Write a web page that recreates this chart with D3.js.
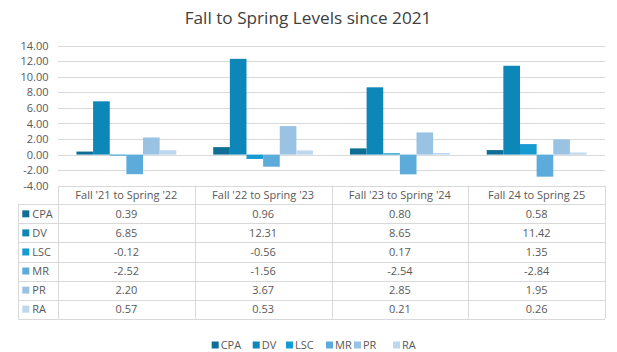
<!DOCTYPE html>
<html><head><meta charset="utf-8">
<script src="https://cdn.jsdelivr.net/npm/d3@7"></script>
<style>
body{margin:0;background:#fff;}
svg{display:block;font-family:"Open Sans","Noto Sans",sans-serif;}
</style></head>
<body>
<svg id="chart" width="617" height="352"></svg>
<script>
const categories = ["Fall '21 to Spring '22", "Fall '22 to Spring '23", "Fall '23 to Spring '24", "Fall 24 to Spring 25"];
const seriesNames = ["CPA", "DV", "LSC", "MR", "PR", "RA"];
const CPA = [0.39, 0.96, 0.80, 0.58];
const DV  = [6.85, 12.31, 8.65, 11.42];
const LSC = [-0.12, -0.56, 0.17, 1.35];
const MR  = [-2.52, -1.56, -2.54, -2.84];
const PR  = [2.20, 3.67, 2.85, 1.95];
const RA  = [0.57, 0.53, 0.21, 0.26];
const yTicks = [-4, -2, 0, 2, 4, 6, 8, 10, 12, 14];
const colors = ["#0f6e96", "#0d86b8", "#169bd0", "#5dabdb", "#9ac3e3", "#bdd7ee"];
const title = "Fall to Spring Levels since 2021";

const seriesValues = [CPA, DV, LSC, MR, PR, RA];
const fmt = d3.formatLocale({decimal: ".", thousands: ",", grouping: [3], currency: ["", ""], minus: "-"}).format(".2f");

const svg = d3.select("#chart");
const plotLeft = 58, plotRight = 605, plotTop = 45.7, plotBottom = 185.7;
const textColor = "#595959", gridColor = "#d9d9d9";
const fs = 11;

svg.append("text").attr("x", 308).attr("y", 24).attr("text-anchor", "middle")
  .attr("font-size", 17.2).attr("fill", "#404040").text(title);

const y = d3.scaleLinear().domain([-4, 14]).range([plotBottom, plotTop]);
const x0 = d3.scaleBand().domain(categories).range([plotLeft, plotRight]).padding(0);
const bw = x0.bandwidth();
const gap = bw * 0.135;
const x1 = d3.scaleBand().domain(seriesNames).range([gap, bw - gap]).padding(0);

// gridlines
svg.append("g").selectAll("line").data(yTicks).join("line")
  .attr("x1", plotLeft).attr("x2", plotRight)
  .attr("y1", d => Math.round(y(d)) + 0.5).attr("y2", d => Math.round(y(d)) + 0.5)
  .attr("stroke", gridColor).attr("stroke-width", 1);

// y axis labels
const yAxis = d3.axisLeft(y).tickValues(yTicks).tickFormat(fmt).tickSize(0).tickPadding(0);
const ga = svg.append("g").attr("transform", `translate(48.5,0)`).call(yAxis);
ga.select(".domain").remove();
ga.selectAll("text").attr("font-size", fs).attr("fill", textColor).attr("font-family", "'Open Sans','Noto Sans',sans-serif");

// bars
const data = [];
categories.forEach((c, i) => seriesNames.forEach((s, j) => data.push({c, s, v: seriesValues[j][i], j})));
svg.append("g").selectAll("rect").data(data).join("rect")
  .attr("x", d => x0(d.c) + x1(d.s))
  .attr("width", x1.bandwidth())
  .attr("y", d => Math.min(y(d.v), y(0)))
  .attr("height", d => Math.abs(y(d.v) - y(0)))
  .attr("fill", d => colors[d.j]);

// data table
const headerTop = plotBottom, headerH = 18.6, rowH = 19.07;
const tableLeft = 18.3;
const rowTop = headerTop + headerH;
const tableBottom = rowTop + rowH * seriesNames.length;
const tg = svg.append("g");
seriesNames.forEach((s, i) => {
  const yy = Math.round(rowTop + rowH * i) + 0.5;
  tg.append("line").attr("x1", tableLeft).attr("x2", plotRight).attr("y1", yy).attr("y2", yy).attr("stroke", gridColor);
});
tg.append("line").attr("x1", tableLeft).attr("x2", plotRight)
  .attr("y1", Math.round(tableBottom) + 0.5).attr("y2", Math.round(tableBottom) + 0.5).attr("stroke", gridColor);
const vx = [plotLeft, ...categories.map(c => x0(c) + bw)];
vx.forEach(xx => {
  tg.append("line").attr("x1", Math.round(xx) + 0.5).attr("x2", Math.round(xx) + 0.5)
    .attr("y1", headerTop).attr("y2", tableBottom).attr("stroke", gridColor);
});
tg.append("line").attr("x1", Math.round(tableLeft) + 0.5).attr("x2", Math.round(tableLeft) + 0.5)
  .attr("y1", rowTop).attr("y2", tableBottom).attr("stroke", gridColor);
categories.forEach(c => {
  tg.append("text").attr("x", x0(c) + bw / 2).attr("y", headerTop + headerH / 2 + 4)
    .attr("text-anchor", "middle").attr("font-size", fs).attr("fill", textColor).text(c);
});
seriesNames.forEach((s, j) => {
  const cy = rowTop + rowH * j + rowH / 2;
  tg.append("rect").attr("x", 22.3).attr("y", cy - 3.5).attr("width", 7).attr("height", 7).attr("fill", colors[j]);
  tg.append("text").attr("x", 32.3).attr("y", cy + 4).attr("font-size", fs).attr("fill", textColor).text(s);
  categories.forEach((c, i) => {
    tg.append("text").attr("x", x0(c) + bw / 2).attr("y", cy + 4)
      .attr("text-anchor", "middle").attr("font-size", fs).attr("fill", textColor)
      .text(fmt(seriesValues[j][i]));
  });
});

// legend
const legendX = [211.7, 252.7, 286, 326, 354, 393];
const lg = svg.append("g");
seriesNames.forEach((s, j) => {
  lg.append("rect").attr("x", legendX[j]).attr("y", 341.5).attr("width", 7).attr("height", 7).attr("fill", colors[j]);
  lg.append("text").attr("x", legendX[j] + 9).attr("y", 349).attr("font-size", fs).attr("fill", textColor).text(s);
});
</script>
</body></html>
